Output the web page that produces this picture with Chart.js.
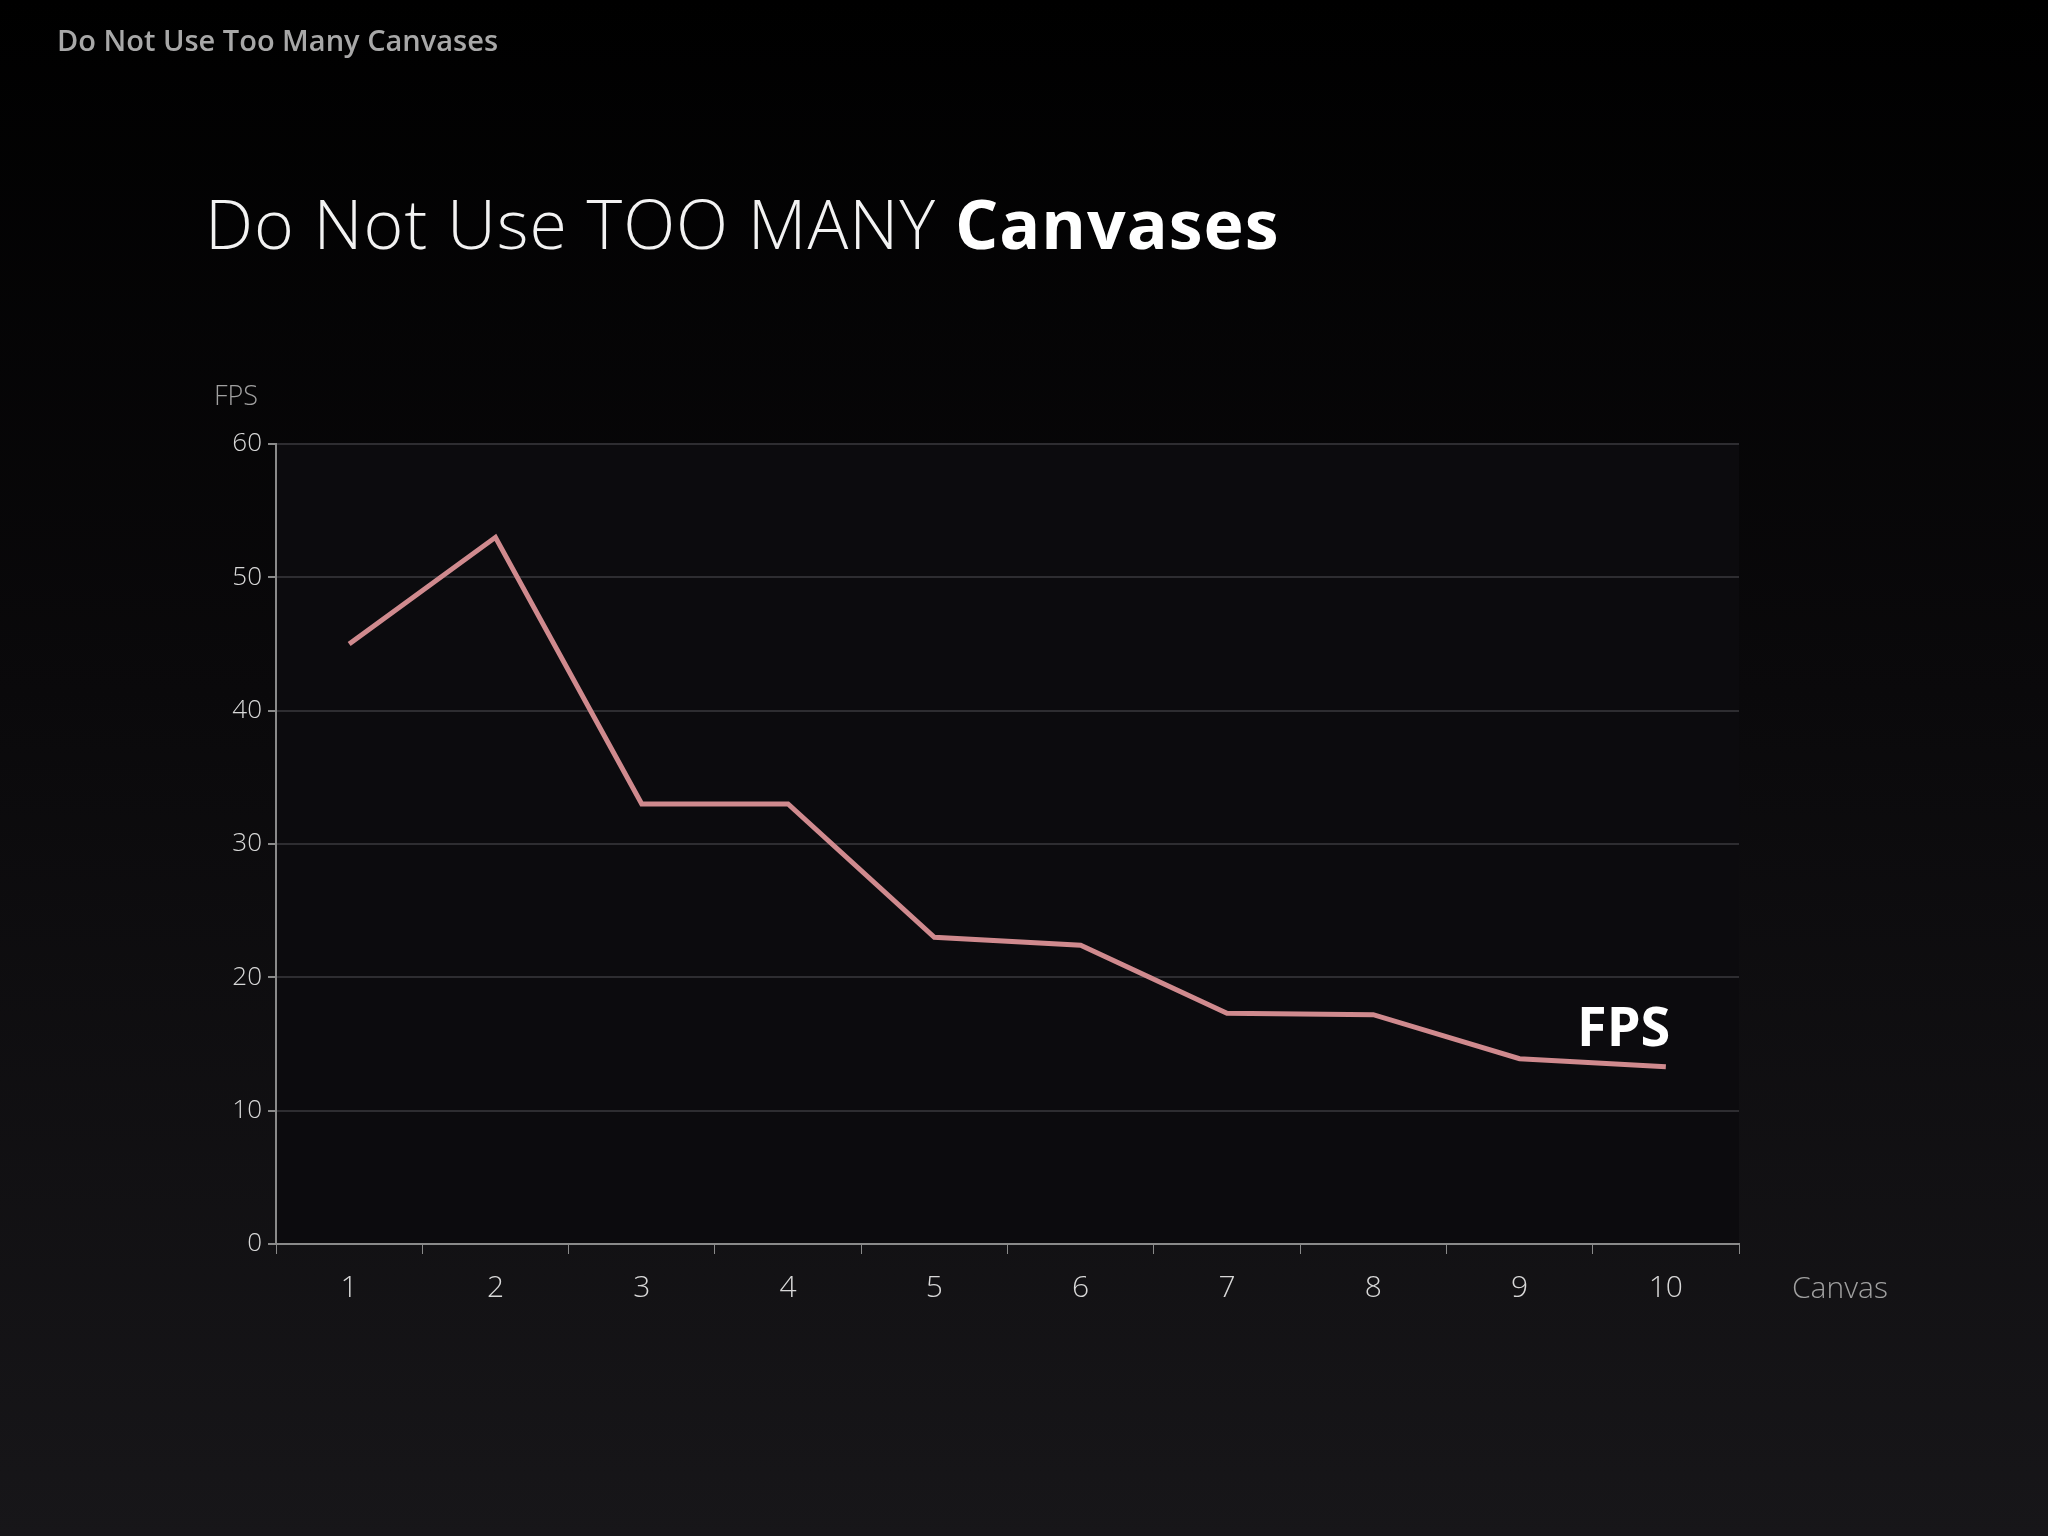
<!DOCTYPE html>
<html>
<head>
<meta charset="utf-8">
<script src="https://cdn.jsdelivr.net/npm/chart.js@4"></script>
<style>
  html, body { margin: 0; padding: 0; }
  body {
    width: 2048px; height: 1536px; overflow: hidden; position: relative;
    background: linear-gradient(180deg, #000000 0%, #0a090b 45%, #171619 100%);
    font-family: "Open Sans", "Noto Sans", sans-serif;
  }
  #chart { position: absolute; left: 0; top: 0; z-index: 0; }
  .txt { position: absolute; white-space: nowrap; z-index: 2; }
</style>
</head>
<body>
<div class="txt" style="left:57px;top:20px;font-size:29px;font-weight:600;color:#a8a8a8;">Do Not Use Too Many Canvases</div>
<div class="txt" style="left:205px;top:176px;font-size:68px;font-weight:300;color:#f2f2f2;letter-spacing:1px;">Do Not Use TOO MANY <b style="font-weight:700;color:#fff;">Canvases</b></div>
<div class="txt" style="left:214px;top:376px;font-size:27px;font-weight:300;color:#a0a0a0;">FPS</div>
<div class="txt" style="left:1792px;top:1266px;font-size:30px;font-weight:300;color:#a0a0a0;">Canvas</div>
<div class="txt" style="left:1577px;top:988px;font-size:54px;font-weight:700;color:#ffffff;">FPS</div>
<canvas id="chart" width="2048" height="1536"></canvas>
<script>
// Data
const canvasCounts = ['1', '2', '3', '4', '5', '6', '7', '8', '9', '10'];
const fpsValues = [45, 53, 33, 33, 23, 22.4, 17.3, 17.2, 13.9, 13.3];
const yTicks = [0, 10, 20, 30, 40, 50, 60];

// Slightly lighter plot area behind the grid
const plotBackground = {
    id: 'plotBackground',
    beforeDraw(chart) {
        const { ctx, chartArea: a } = chart;
        ctx.save();
        ctx.fillStyle = '#0c0b0e';
        ctx.fillRect(a.left, a.top, a.right - a.left, a.bottom - a.top);
        ctx.restore();
    }
};

const ctx = document.getElementById('chart').getContext('2d');
new Chart(ctx, {
    type: 'line',
    data: {
        labels: canvasCounts,
        datasets: [{
            label: 'FPS',
            data: fpsValues,
            borderColor: '#d08a8e',
            borderWidth: 5,
            tension: 0,
            pointRadius: 0,
            fill: false
        }]
    },
    options: {
        responsive: false,
        animation: false,
        layout: { padding: { left: 0, top: 444, right: 309, bottom: 212 } },
        plugins: { legend: { display: false }, tooltip: { enabled: false } },
        scales: {
            x: {
                offset: true,
                afterFit(s) { s.height = 80; },
                grid: { offset: true, drawOnChartArea: false, drawTicks: true, tickLength: 10, color: '#8a8a8a' },
                border: { color: '#8a8a8a', width: 2 },
                ticks: { color: '#d8d8d8', font: { family: 'Open Sans', size: 30, weight: 300 }, padding: 16 }
            },
            y: {
                min: 0, max: 60,
                afterFit(s) { s.width = 276; },
                afterBuildTicks(s) { s.ticks = yTicks.map(v => ({ value: v })); },
                grid: { color: '#2e2d31', lineWidth: 2, tickLength: 8, tickColor: '#8a8a8a' },
                border: { color: '#8a8a8a', width: 2 },
                ticks: { color: '#d8d8d8', font: { family: 'Open Sans', size: 26, weight: 300 }, padding: 6 }
            }
        }
    },
    plugins: [plotBackground]
});
</script>
</body>
</html>
